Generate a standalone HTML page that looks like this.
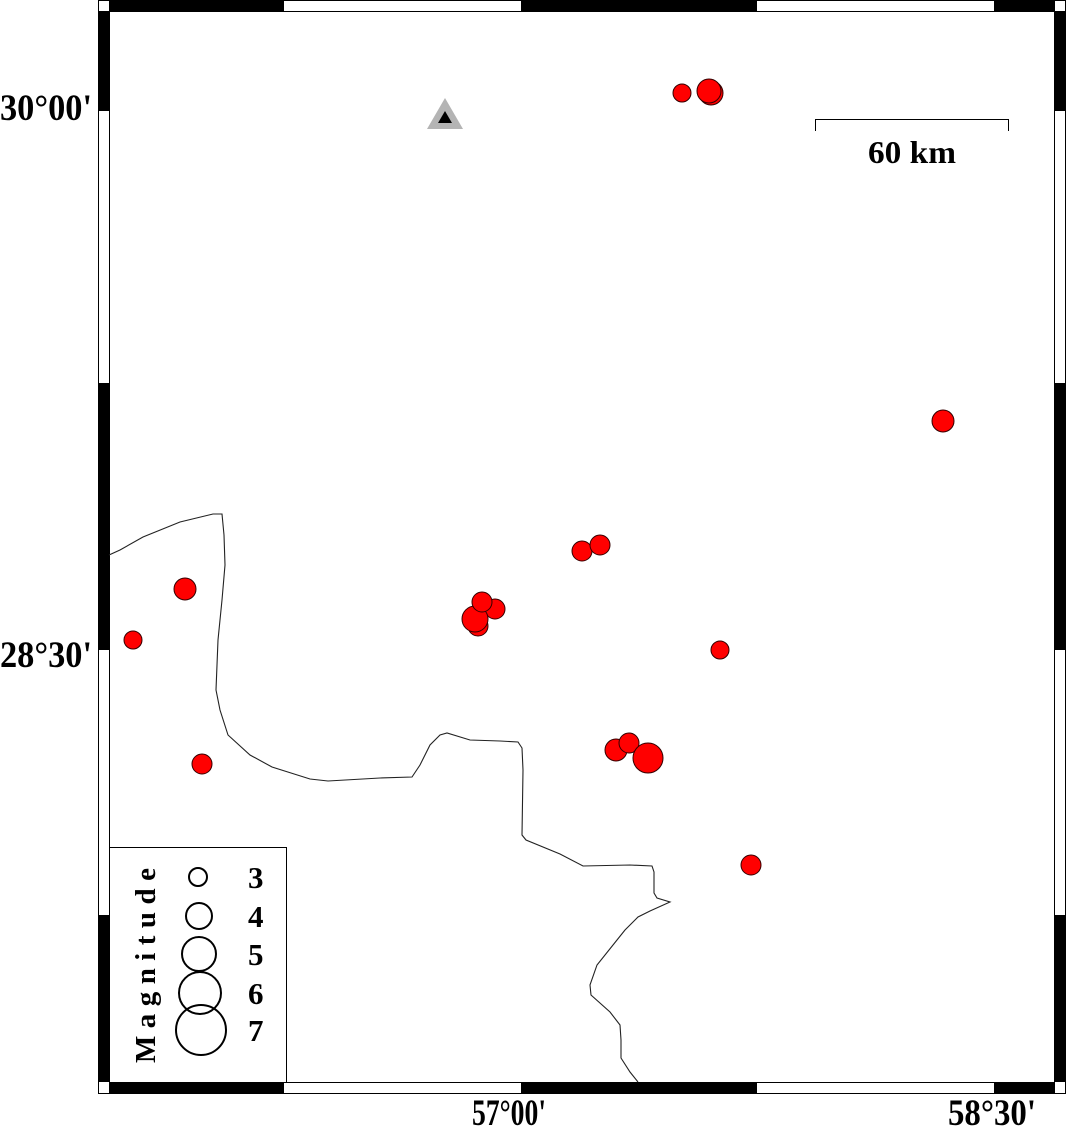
<!DOCTYPE html>
<html><head><meta charset="utf-8"><style>html,body{margin:0;padding:0;background:#fff}svg{display:block}</style></head><body>
<svg width="1066" height="1132" viewBox="0 0 1066 1132" xmlns="http://www.w3.org/2000/svg">
<rect width="1066" height="1132" fill="#fff"/>
<rect x="98.5" y="0.5" width="967" height="1093" fill="#fff" stroke="#000"/>
<g fill="#000">
<rect x="109" y="0" width="175" height="11"/>
<rect x="521" y="0" width="236" height="11"/>
<rect x="994" y="0" width="61" height="11"/>
<rect x="109" y="1082" width="175" height="11"/>
<rect x="521" y="1082" width="236" height="11"/>
<rect x="994" y="1082" width="61" height="11"/>
<rect x="98" y="11" width="11" height="100"/>
<rect x="98" y="383" width="11" height="267"/>
<rect x="98" y="915" width="11" height="167"/>
<rect x="1055" y="11" width="11" height="100"/>
<rect x="1055" y="383" width="11" height="267"/>
<rect x="1055" y="915" width="11" height="167"/>
</g>
<rect x="109.5" y="11.5" width="945" height="1071" fill="none" stroke="#000"/>
<polyline fill="none" stroke="#222" stroke-width="1.1" points="109,555 120,550 143,537 180,522 213,514 222,514 224,535 225,565 222,600 218,640 216,690 220,710 228,735 250,755 272,767 310,779 328,781 380,778 412,777 420,765 430,745 440,735 447,733 470,740 500,741 518,742 522,748 523,770 522,835 526,840 560,854 583,866 630,865 652,866 654,872 654,893 657,898 670,902 650,911 638,917 625,930 617,940 597,965 590,985 591,995 610,1012 620,1025 621,1040 621,1058 630,1072 638,1082"/>
<polygon points="427,129 463,129 445,98" fill="#b4b4b4"/>
<polygon points="438,123 452,123 445,111" fill="#000"/>
<g fill="#f00" stroke="#300" stroke-width="1">
<circle cx="682" cy="93" r="9"/>
<circle cx="711" cy="93" r="12"/>
<circle cx="709" cy="91" r="12"/>
<circle cx="943" cy="421" r="11"/>
<circle cx="582" cy="551" r="10"/>
<circle cx="600" cy="545" r="10"/>
<circle cx="185" cy="589" r="11"/>
<circle cx="133" cy="640" r="9"/>
<circle cx="495" cy="609" r="10"/>
<circle cx="478" cy="626" r="10"/>
<circle cx="475" cy="619" r="13"/>
<circle cx="482" cy="602" r="10"/>
<circle cx="720" cy="650" r="9"/>
<circle cx="616" cy="750" r="11"/>
<circle cx="629" cy="743" r="10"/>
<circle cx="648" cy="758" r="15"/>
<circle cx="202" cy="764" r="10"/>
<circle cx="751" cy="865" r="10"/>
</g>
<polyline points="815.5,131 815.5,119.5 1008.5,119.5 1008.5,131" fill="none" stroke="#000"/>
<text x="868" y="163" font-family="Liberation Serif, serif" font-weight="bold" font-size="32" textLength="88" lengthAdjust="spacingAndGlyphs">60 km</text>
<rect x="109.5" y="847.5" width="177" height="235" fill="#fff" stroke="#000"/>
<g fill="none" stroke="#000" stroke-width="2">
<circle cx="198" cy="877" r="9"/>
<circle cx="199" cy="916" r="13"/>
<circle cx="199" cy="954" r="17"/>
<circle cx="200" cy="993" r="21"/>
<circle cx="201" cy="1030" r="25"/>
</g>
<g font-family="Liberation Serif, serif" font-weight="bold" font-size="31">
<text x="248" y="888">3</text>
<text x="248" y="927">4</text>
<text x="248" y="965">5</text>
<text x="248" y="1004">6</text>
<text x="248" y="1041">7</text>
</g>
<text transform="translate(155,1063) rotate(-90)" font-family="Liberation Serif, serif" font-weight="bold" font-size="29" textLength="195" lengthAdjust="spacing">Magnitude</text>
<g font-family="Liberation Serif, serif" font-weight="bold" font-size="37">
<text x="0" y="120" textLength="92" lengthAdjust="spacingAndGlyphs">30°00'</text>
<text x="0" y="667" textLength="92" lengthAdjust="spacingAndGlyphs">28°30'</text>
<text x="472" y="1125" textLength="74" lengthAdjust="spacingAndGlyphs">57°00'</text>
<text x="948" y="1125" textLength="88" lengthAdjust="spacingAndGlyphs">58°30'</text>
</g>
</svg>
</body></html>
